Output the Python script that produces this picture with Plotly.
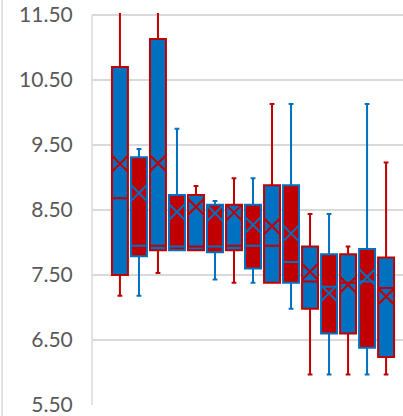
import plotly.graph_objects as go

# one entry per box, left to right (boxes alternate between the two series)
boxes = [str(i) for i in range(1, 16)]
q1 = [7.50, 7.79, 7.88, 7.88, 7.88, 7.85, 7.88, 7.60, 7.38, 7.38, 6.98, 6.60, 6.60, 6.38, 6.24]
median = [8.68, 7.95, 7.95, 7.94, 7.94, 7.94, 7.95, 7.95, 7.95, 7.70, 7.40, 7.32, 7.38, 7.40, 7.30]
q3 = [10.70, 9.31, 11.13, 8.73, 8.73, 8.58, 8.58, 8.58, 8.88, 8.88, 7.94, 7.82, 7.82, 7.90, 7.77]
lower = [7.18, 7.18, 7.53, 7.88, 7.88, 7.43, 7.38, 7.38, 7.38, 6.98, 5.97, 5.97, 5.97, 5.97, 5.97]
upper = [11.60, 9.44, 11.60, 9.75, 8.87, 8.64, 8.99, 8.99, 10.13, 10.13, 8.44, 8.44, 7.94, 10.13, 9.23]
mean = [9.21, 8.76, 9.22, 8.47, 8.55, 8.45, 8.46, 8.27, 8.25, 8.14, 7.55, 7.22, 7.35, 7.47, 7.17]

BLUE = '#0070C0'
RED = '#C00000'

fig = go.Figure()

# series A: blue fill, red outline (even positions); series B: red fill, blue outline
for start, fill, edge in [(0, BLUE, RED), (1, RED, BLUE)]:
	sl = slice(start, None, 2)
	fig.add_trace(go.Box(
		x=boxes[sl], q1=q1[sl], median=median[sl], q3=q3[sl],
		lowerfence=lower[sl], upperfence=upper[sl],
		fillcolor=fill, line=dict(color=edge, width=2),
		width=0.84, whiskerwidth=0.3, boxpoints=False, showlegend=False,
	))
	fig.add_trace(go.Scatter(
		x=boxes[sl], y=mean[sl], mode='markers',
		marker=dict(symbol='x-thin-open', size=15, color=edge, line=dict(color=edge, width=2)),
		showlegend=False, hoverinfo='skip'
	))

# thin border on the chart's left and the plot area's left edge
fig.add_shape(type='line', xref='paper', yref='paper', x0=-0.289, x1=-0.289, y0=-0.1, y1=1.1,
	line=dict(color='#d9d9d9', width=1.5))
fig.add_shape(type='line', xref='paper', yref='y', x0=0, x1=0, y0=5.5, y1=11.5,
	line=dict(color='#d9d9d9', width=1.5))

fig.update_layout(
	width=403, height=416,
	margin=dict(l=92, r=0, t=13, b=10, autoexpand=False),
	paper_bgcolor='white', plot_bgcolor='white',
	boxmode='overlay',
	font=dict(family='Lato', size=21, color='#595959'),
)
fig.update_xaxes(type='category', categoryorder='array', categoryarray=boxes,
	range=[-1.47, 14.89], showticklabels=False, showgrid=False, zeroline=False, showline=False,
	automargin=False)
fig.update_yaxes(range=[5.485, 11.53], tick0=5.5, dtick=1, tickformat='.2f',
	showgrid=True, gridcolor='#d9d9d9', gridwidth=1.5, zeroline=False, showline=False,
	ticks='outside', ticklen=14, tickcolor='rgba(0,0,0,0)', automargin=False,
	ticklabeloverflow='allow')

# drop the page's default body margin so the figure sits at the window's corner
fig.write_html('out.html', config={'displayModeBar': False},
	post_script="document.body.style.margin='0';")
